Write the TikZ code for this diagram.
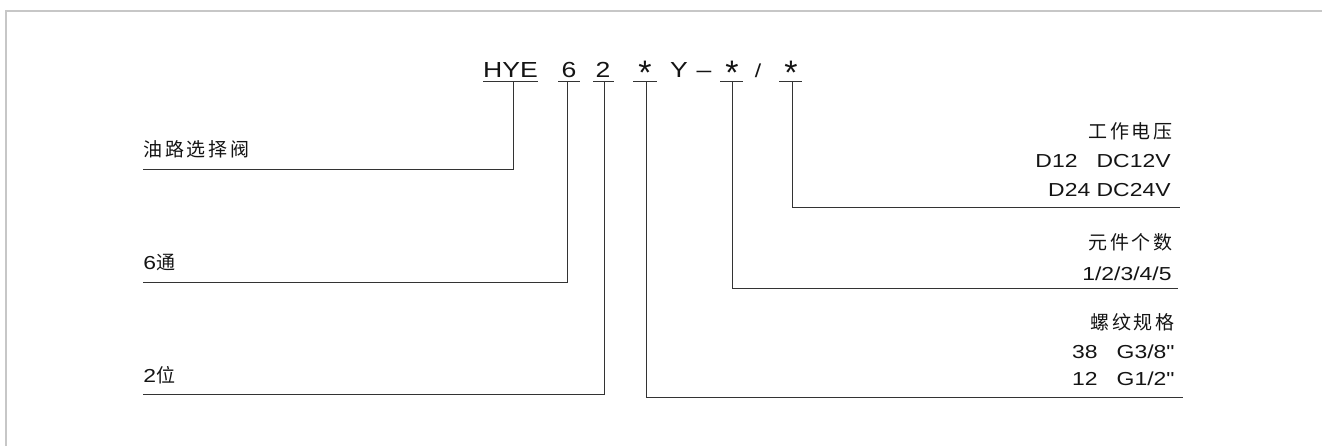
\documentclass[tikz,border=0pt]{standalone}
\usepackage{fontspec}
\newfontfamily\latf{Liberation Sans}[FakeStretch=1.22]
\newfontfamily\cjk{Noto Sans CJK SC}[LetterSpace=14]
\newfontfamily\starf{Liberation Sans}
\usetikzlibrary{positioning}

\tikzset{
  lab/.style={inner sep=0pt, font=\latf\fontsize{9.4}{10}\selectfont, text=black!92},
  cjklab/.style={lab, font=\cjk\fontsize{9.5}{10}\selectfont},
  code/.style={inner sep=0pt, anchor=base, font=\latf\fontsize{10.9}{12}\selectfont, text=black!92},
  starsym/.style={inner sep=0pt, anchor=base, font=\starf\fontsize{17}{17}\selectfont, text=black!92},
  lead/.style={draw=black!80, line width=0.5pt},
}

\begin{document}
\begin{tikzpicture}[x=0.5pt,y=-0.5pt]
\useasboundingbox (0,0) rectangle (1322,446);
\draw[black!22, line width=1pt] (5.5,446) -- (5.5,10.5) -- (1322,10.5);

% type code
\node[code] (hye) at (510.5,77) {HYE};
\node[code] (six) at (569,77) {6};
\node[code] (two) at (603,77) {2};
\node[starsym] (thr) at (645,84) {*};
\node[code] (yy) at (679,77) {Y};
\node[code] (dash) at (704,77) {–};
\node[starsym] (num) at (732,84) {*};
\node[lab, anchor=base] (sl) at (758,77) {/};
\node[starsym] (volt) at (791,84) {*};

\foreach \a/\b/\c/\n in {483/538/513/hye, 558/580/567/six, 593/614/604/two,
	633/657/646/thr, 720/743/732/num, 779/802/792/volt} {
	\draw[lead] (\a,81.5) -- (\b,81.5);
	\coordinate (\n-u) at (\c,81.5);
	};

% left side
\node[cjklab, anchor=base west] (oil) at (143,156) {油路选择阀};
\node[lab, anchor=base west] (way) at (143,269) {6{\cjk\fontsize{9.5}{10}\selectfont 通}};
\node[lab, anchor=base west] (pos) at (143,382) {2{\cjk\fontsize{9.5}{10}\selectfont 位}};
\coordinate (oil-e) at (143,169);
\coordinate (way-e) at (143,282);
\coordinate (pos-e) at (143,394);
\draw[lead] (hye-u) |- (oil-e);
\draw[lead] (six-u) |- (way-e);
\draw[lead] (two-u) |- (pos-e);

% right side
\node[cjklab, anchor=base east] (vt) at (1173,138) {工作电压};
\node[lab, anchor=base east] (v1) at (1171,167) {D12\ \ \ DC12V};
\node[lab, anchor=base east] (v2) at (1171,196) {D24 DC24V};
\node[cjklab, anchor=base east] (nt) at (1173,249) {元件个数};
\node[lab, anchor=base east] (n1) at (1172,280) {1/2/3/4/5};
\node[cjklab, anchor=base east] (tt) at (1175,329) {螺纹规格};
\node[lab, anchor=base east] (t1) at (1175,358) {38\ \ \ G3/8"};
\node[lab, anchor=base east] (t2) at (1175,385) {12\ \ \ G1/2"};
\coordinate (volt-e) at (1180,207);
\coordinate (num-e) at (1178,288);
\coordinate (thr-e) at (1183,397);
\draw[lead] (volt-u) |- (volt-e);
\draw[lead] (num-u) |- (num-e);
\draw[lead] (thr-u) |- (thr-e);
\end{tikzpicture}
\end{document}
